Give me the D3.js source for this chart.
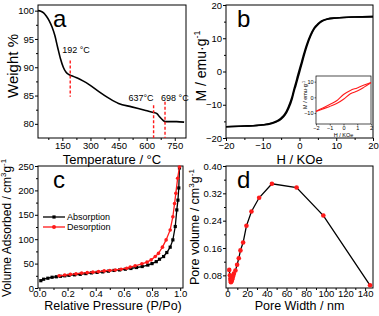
<!DOCTYPE html>
<html>
<head>
<meta charset="utf-8">
<script src="https://cdn.jsdelivr.net/npm/d3@7"></script>
<style>
  body { margin: 0; background: #fff; }
  text { font-family: Arial, "Liberation Sans", sans-serif; fill: #000; }
</style>
</head>
<body>
<svg id="fig" width="379" height="316"></svg>
<script>
// (a) TGA
const tgaTemp = [20, 35, 50, 65, 80, 95, 110, 125, 140, 155, 170, 185, 200, 215, 230, 260, 295, 345, 400, 450, 520, 590, 625, 640, 655, 670, 685, 700, 720, 760, 800];
const tgaWeight = [100, 99.9, 99.6, 99.0, 98.2, 97.1, 95.6, 93.5, 91.5, 90.0, 89.1, 88.7, 88.5, 88.3, 88.1, 87.6, 86.9, 85.7, 84.5, 83.6, 83.0, 82.4, 82.1, 82.0, 81.8, 81.2, 80.7, 80.4, 80.4, 80.4, 80.3];
const markTemps = [192, 637, 698];
const markTop = [91.2, 83.3, 83.9];
const markBottom = [84.8, 77.5, 77.5];
const markLabels = ['192 \u00b0C', '637\u00b0C', '698 \u00b0C'];

// (b) magnetisation loop
const hField = [-20, -15, -10, -7.5, -6, -5, -4, -3, -2, -1.5, -1, -0.5, 0, 0.5, 1, 1.5, 2, 3, 4, 5, 6, 7.5, 10, 15, 20];
const mUp = [-16.6, -16.4, -16.1, -15.6, -15.0, -14.3, -13.2, -11.2, -8.2, -6.0, -4.2, -2.2, -0.2, 1.8, 3.8, 5.8, 7.6, 10.6, 12.8, 14.1, 15.0, 15.7, 16.1, 16.4, 16.5];
const mDown = [-16.6, -16.4, -16.0, -15.5, -14.8, -14.0, -12.8, -10.6, -7.5, -5.3, -3.4, -1.3, 0.7, 2.6, 4.6, 6.5, 8.2, 11.0, 13.1, 14.3, 15.2, 15.8, 16.1, 16.4, 16.5];
// inset
const insetH = [-2, -1.5, -1, -0.5, 0, 0.5, 1, 1.5, 2];
const insetUpper = [-8.8, -6.8, -4.6, -2.2, 1.8, 4.4, 6.0, 7.8, 9.5];
const insetLower = [-9.0, -7.4, -5.8, -4.0, -1.2, 2.3, 4.0, 6.5, 9.3];

// (c) N2 isotherm
const absP = [0.01, 0.03, 0.06, 0.09, 0.12, 0.15, 0.18, 0.21, 0.25, 0.29, 0.33, 0.37, 0.41, 0.45, 0.49, 0.53, 0.57, 0.61, 0.65, 0.69, 0.73, 0.77, 0.80, 0.83, 0.853, 0.882, 0.905, 0.929, 0.948, 0.965, 0.976, 0.984, 0.99, 0.995];
const absV = [15, 18, 20, 22, 23, 24, 25, 26, 27, 28, 29.5, 31, 32, 33, 34.5, 36, 37, 38.5, 40, 42, 44, 47, 50, 54, 59, 64.5, 72.7, 83.7, 98.6, 126, 160, 180, 205, 246];
const desP = [0.14, 0.18, 0.22, 0.26, 0.30, 0.34, 0.38, 0.42, 0.46, 0.50, 0.54, 0.58, 0.62, 0.645, 0.68, 0.728, 0.764, 0.794, 0.823, 0.846, 0.874, 0.90, 0.929, 0.948, 0.96, 0.969, 0.982, 0.995];
const desV = [25, 26.5, 28, 29, 30.5, 31.5, 32.5, 33.5, 35, 36, 37, 38.5, 40.5, 43, 45.5, 49.6, 53, 57.7, 64.5, 71, 83.7, 98.6, 119, 146, 173, 194, 225, 248];

// (d) pore size distribution
const poreWidth = [1.8, 2.5, 2.9, 3.2, 3.5, 3.9, 4.3, 4.7, 5.2, 5.8, 6.5, 8.1, 9.8, 11.5, 13.2, 15.9, 19.3, 24.4, 32.2, 45.2, 70.3, 97.5, 145];
const poreVolume = [0.096, 0.080, 0.070, 0.064, 0.060, 0.062, 0.065, 0.068, 0.072, 0.078, 0.085, 0.094, 0.111, 0.130, 0.153, 0.176, 0.225, 0.267, 0.307, 0.348, 0.337, 0.255, 0.051];

const RED = '#ff1a1a';
const svg = d3.select('#fig');

function panel(box, xDom, yDom, xTicks, yTicks, xMinor, yMinor, xFmt, yFmt, labelGap) {
  const g = svg.append('g');
  const x = d3.scaleLinear().domain(xDom).range([box.x0, box.x1]);
  const y = d3.scaleLinear().domain(yDom).range([box.y1, box.y0]);

  const xa = g.append('g').attr('transform', `translate(0,${box.y1})`)
      .call(d3.axisBottom(x).tickValues(xTicks).tickFormat(xFmt).tickSize(3).tickSizeOuter(0));
  g.append('g').attr('transform', `translate(0,${box.y1})`)
      .call(d3.axisBottom(x).tickValues(xMinor).tickFormat('').tickSize(2).tickSizeOuter(0));
  const ya = g.append('g').attr('transform', `translate(${box.x0},0)`)
      .call(d3.axisLeft(y).tickValues(yTicks).tickFormat(yFmt).tickSize(3).tickSizeOuter(0));
  g.append('g').attr('transform', `translate(${box.x0},0)`)
      .call(d3.axisLeft(y).tickValues(yMinor).tickFormat('').tickSize(2).tickSizeOuter(0));
  g.selectAll('.domain').remove();
  g.selectAll('.tick line').attr('stroke', '#000');
  g.selectAll('.tick text').attr('font-size', 9.5).attr('font-family', 'Arial, sans-serif');
  xa.selectAll('.tick text').attr('dy', '0.72em').attr('y', labelGap);
  ya.selectAll('.tick text').attr('x', -4);

  g.append('rect')
      .attr('x', box.x0).attr('y', box.y0)
      .attr('width', box.x1 - box.x0).attr('height', box.y1 - box.y0)
      .attr('fill', 'none').attr('stroke', '#000').attr('stroke-width', 1);
  return {g, x, y};
}

function letter(txt, px, py) {
  svg.append('text').attr('x', px).attr('y', py).attr('font-size', 24).text(txt);
}

function xTitle(parts, cx, cy, size) {
  const t = svg.append('text').attr('x', cx).attr('y', cy).attr('text-anchor', 'middle').attr('font-size', size);
  parts.forEach(p => {
    const s = t.append('tspan').text(p.t);
    if (p.sup) s.attr('font-size', size * 0.65).attr('dy', -size * 0.4);
    if (p.back) s.attr('dy', size * 0.4);
  });
}

function yTitle(parts, cx, cy, size) {
  const t = svg.append('text')
      .attr('transform', `translate(${cx},${cy}) rotate(-90)`)
      .attr('text-anchor', 'middle').attr('font-size', size);
  parts.forEach(p => {
    const s = t.append('tspan').text(p.t);
    if (p.sup) s.attr('font-size', size * 0.65).attr('dy', -size * 0.4);
    if (p.back) s.attr('dy', size * 0.4);
  });
}

// ---------- panel a ----------
{
  const box = {x0: 38, x1: 186, y0: 5, y1: 138};
  const {g, x, y} = panel(box, [20, 810], [77.5, 101],
      [150, 300, 450, 600, 750], [80, 85, 90, 95, 100],
      [75, 225, 375, 525, 675], [82.5, 87.5, 92.5, 97.5],
      d3.format('d'), d3.format('d'), 4);

  const line = d3.line().x((d, i) => x(tgaTemp[i])).y(d => y(d)).curve(d3.curveMonotoneX);
  g.append('path').datum(tgaWeight).attr('d', line)
      .attr('fill', 'none').attr('stroke', '#000').attr('stroke-width', 1.6);

  g.selectAll('.mark').data(markTemps).enter().append('line')
      .attr('x1', d => x(d)).attr('x2', d => x(d))
      .attr('y1', (d, i) => y(markTop[i])).attr('y2', (d, i) => y(markBottom[i]))
      .attr('stroke', RED).attr('stroke-width', 1.4).attr('stroke-dasharray', '3,2');

  const lblX = [x(192) - 8, x(637), x(698) - 4];
  const lblY = [53, 101, 101];
  const lblAnchor = ['start', 'end', 'start'];
  g.selectAll('.lbl').data(markLabels).enter().append('text')
      .attr('x', (d, i) => lblX[i]).attr('y', (d, i) => lblY[i])
      .attr('text-anchor', (d, i) => lblAnchor[i])
      .attr('font-size', 9).text(d => d);

  letter('a', 53, 27);
  xTitle([{t: 'Temperature / \u00b0C'}], 112, 164, 13);
  yTitle([{t: 'Weight %'}], 18, 66, 15);
}

// ---------- panel b ----------
{
  const box = {x0: 226, x1: 373, y0: 5, y1: 138};
  const {g, x, y} = panel(box, [-20, 20], [-20, 20],
      [-20, -10, 0, 10, 20], [-20, -10, 0, 10, 20],
      [-15, -5, 5, 15], [-15, -5, 5, 15],
      d3.format('d'), d3.format('d'), 4);

  const line = d3.line().x((d, i) => x(hField[i])).y(d => y(d)).curve(d3.curveMonotoneX);
  [mUp, mDown].forEach(arr => {
    g.append('path').datum(arr).attr('d', line)
        .attr('fill', 'none').attr('stroke', '#000').attr('stroke-width', 1.6);
  });

  // inset
  const ib = {x0: 316, x1: 371, y0: 76, y1: 124};
  const ix = d3.scaleLinear().domain([-2, 2]).range([ib.x0, ib.x1]);
  const iy = d3.scaleLinear().domain([-17, 13.6]).range([ib.y1, ib.y0]);
  const ig = g.append('g');
  ig.append('rect').attr('x', ib.x0).attr('y', ib.y0)
      .attr('width', ib.x1 - ib.x0).attr('height', ib.y1 - ib.y0)
      .attr('fill', '#fff').attr('stroke', '#000').attr('stroke-width', 0.7);
  const ixa = ig.append('g').attr('transform', `translate(0,${ib.y1})`)
      .call(d3.axisBottom(ix).tickValues([-2, -1, 0, 1, 2]).tickFormat(d3.format('d')).tickSize(1.5).tickSizeOuter(0));
  const iya = ig.append('g').attr('transform', `translate(${ib.x0},0)`)
      .call(d3.axisLeft(iy).tickValues([-10, 0, 10]).tickFormat(d3.format('d')).tickSize(1.5).tickSizeOuter(0));
  ig.selectAll('.domain').remove();
  ig.selectAll('.tick line').attr('stroke', '#000').attr('stroke-width', 0.6);
  ig.selectAll('.tick text').attr('font-size', 5.5).attr('font-family', 'Arial, sans-serif');
  ixa.selectAll('.tick text').attr('y', 2.5);
  iya.selectAll('.tick text').attr('x', -2.5);
  const iline = d3.line().x((d, i) => ix(insetH[i])).y(d => iy(d)).curve(d3.curveMonotoneX);
  [insetUpper, insetLower].forEach(arr => {
    ig.append('path').datum(arr).attr('d', iline)
        .attr('fill', 'none').attr('stroke', RED).attr('stroke-width', 1.1);
  });
  svg.append('text').attr('x', 343.5).attr('y', 137).attr('text-anchor', 'middle')
      .attr('font-size', 5.5).text('H / KOe');
  yTitle([{t: 'M / emu\u00b7g'}, {t: '-1', sup: true}], 307, 95, 5.5);

  letter('b', 237, 27);
  xTitle([{t: 'H / KOe'}], 299.5, 164, 13);
  yTitle([{t: 'M / emu\u00b7g'}, {t: '-1', sup: true}], 206, 66, 14);
}

// ---------- panel c ----------
{
  const box = {x0: 38, x1: 183, y0: 166, y1: 288};
  const {g, x, y} = panel(box, [-0.01, 1.02], [0, 250],
      [0, 0.2, 0.4, 0.6, 0.8, 1.0], [0, 50, 100, 150, 200, 250],
      [0.1, 0.3, 0.5, 0.7, 0.9], [25, 75, 125, 175, 225],
      d3.format('.1f'), d3.format('d'), 2);

  const absLine = d3.line().x((d, i) => x(absP[i])).y(d => y(d));
  const desLine = d3.line().x((d, i) => x(desP[i])).y(d => y(d));
  g.append('path').datum(absV).attr('d', absLine)
      .attr('fill', 'none').attr('stroke', '#000').attr('stroke-width', 1.3);
  g.selectAll('.sq').data(absV).enter().append('rect')
      .attr('x', (d, i) => x(absP[i]) - 1.6).attr('y', d => y(d) - 1.6)
      .attr('width', 3.2).attr('height', 3.2).attr('fill', '#000');
  g.append('path').datum(desV).attr('d', desLine)
      .attr('fill', 'none').attr('stroke', RED).attr('stroke-width', 1.3);
  g.selectAll('.ci').data(desV).enter().append('circle')
      .attr('cx', (d, i) => x(desP[i])).attr('cy', d => y(d))
      .attr('r', 1.8).attr('fill', RED);

  // legend
  const leg = [{name: 'Absorption', color: '#000', sq: true}, {name: 'Desorption', color: RED, sq: false}];
  leg.forEach((l, i) => {
    const ly = 217 + i * 10;
    svg.append('line').attr('x1', 43).attr('x2', 65).attr('y1', ly).attr('y2', ly)
        .attr('stroke', l.color).attr('stroke-width', 1.3);
    if (l.sq) {
      svg.append('rect').attr('x', 52.4).attr('y', ly - 1.6).attr('width', 3.2).attr('height', 3.2).attr('fill', l.color);
    } else {
      svg.append('circle').attr('cx', 54).attr('cy', ly).attr('r', 2).attr('fill', l.color);
    }
    svg.append('text').attr('x', 67).attr('y', ly + 3.2).attr('font-size', 9).text(l.name);
  });

  letter('c', 53, 188);
  xTitle([{t: 'Relative Pressure (P/Po)'}], 113, 309.5, 12.5);
  yTitle([{t: 'Volume Adsorbed / cm'}, {t: '3', sup: true}, {t: 'g', back: true}, {t: '-1', sup: true}], 11, 228, 12);
}

// ---------- panel d ----------
{
  const box = {x0: 226, x1: 373, y0: 166, y1: 288};
  const {g, x, y} = panel(box, [-1.5, 148], [0.043, 0.40],
      [0, 20, 40, 60, 80, 100, 120, 140], [0.08, 0.16, 0.24, 0.32, 0.40],
      [10, 30, 50, 70, 90, 110, 130], [0.12, 0.20, 0.28, 0.36],
      d3.format('d'), d3.format('.2f'), 2);

  const line = d3.line().x((d, i) => x(poreWidth[i])).y(d => y(d));
  g.append('path').datum(poreVolume).attr('d', line)
      .attr('fill', 'none').attr('stroke', '#000').attr('stroke-width', 1.3);
  g.selectAll('.pt').data(poreVolume).enter().append('circle')
      .attr('cx', (d, i) => x(poreWidth[i])).attr('cy', d => y(d))
      .attr('r', 2.3).attr('fill', RED);

  letter('d', 237, 188);
  xTitle([{t: 'Pore Width / nm'}], 299.5, 309.5, 12.5);
  yTitle([{t: 'Pore volume / cm'}, {t: '3', sup: true}, {t: 'g', back: true}, {t: '-1', sup: true}], 199, 227, 12.5);
}
</script>
</body>
</html>
